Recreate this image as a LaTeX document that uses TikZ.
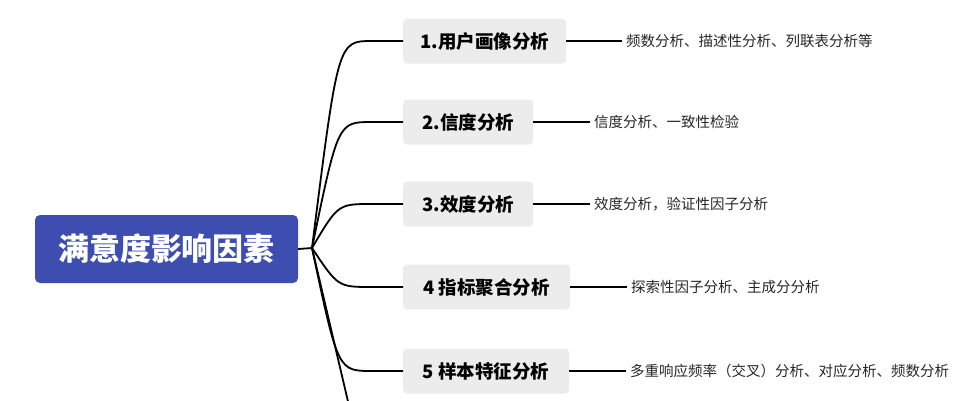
\documentclass[tikz,border=0pt]{standalone}
\usepackage{fontspec}
\setmainfont{Noto Sans CJK SC}
\begin{document}
\begin{tikzpicture}[x=1pt,y=-1pt,
  child/.style={fill=gray!15,rounded corners=4pt,minimum height=45pt,inner xsep=6pt,anchor=west,font=\fontsize{18.5}{20}\selectfont\bfseries},
  desc/.style={anchor=west,inner sep=0pt,font=\fontsize{14.5}{19}\selectfont,text=black!85},
  conn/.style={line width=1.8pt,black}]
\useasboundingbox (0,0) rectangle (962,400);
\node[fill={rgb,255:red,61;green,77;blue,176},rounded corners=5pt,minimum width=263pt,minimum height=68pt,text=white,font=\fontsize{31}{33}\selectfont\bfseries] (root) at (166.5,249) {满意度影响因素};
\coordinate (o) at (312,248);
\node[child,minimum width=163pt] (c1) at (403,41) {1.用户画像分析};
\node[child,minimum width=130pt] (c2) at (403,122) {2.信度分析};
\node[child,minimum width=130pt] (c3) at (403,204) {3.效度分析};
\node[child,minimum width=167pt] (c4) at (403,287) {4 指标聚合分析};
\node[child,minimum width=166pt] (c5) at (403,371) {5 样本特征分析};
\node[desc] (d1) at (626,41) {频数分析、描述性分析、列联表分析等};
\node[desc] (d2) at (594,122) {信度分析、一致性检验};
\node[desc] (d3) at (594,204) {效度分析，验证性因子分析};
\node[desc] (d4) at (631,287) {探索性因子分析、主成分分析};
\node[desc,text width=310pt,align=left,font=\fontsize{14.5}{18}\selectfont] (d5) at (630,371) {多重响应频率（交叉）分析、对应分析、频数分析};
\coordinate (c6) at (350,410);
\draw[conn] (root.east) -- (o);
\foreach \i/\y in {1/41,2/122,3/204,4/287,5/371}{
  \draw[conn] (o) .. controls (338,\y) .. (372,\y) -- (c\i.west);
  \draw[conn] (c\i.east) -- ([xshift=-4pt]d\i.west);
}
\draw[conn] (o) -- (c6);
\end{tikzpicture}
\end{document}
